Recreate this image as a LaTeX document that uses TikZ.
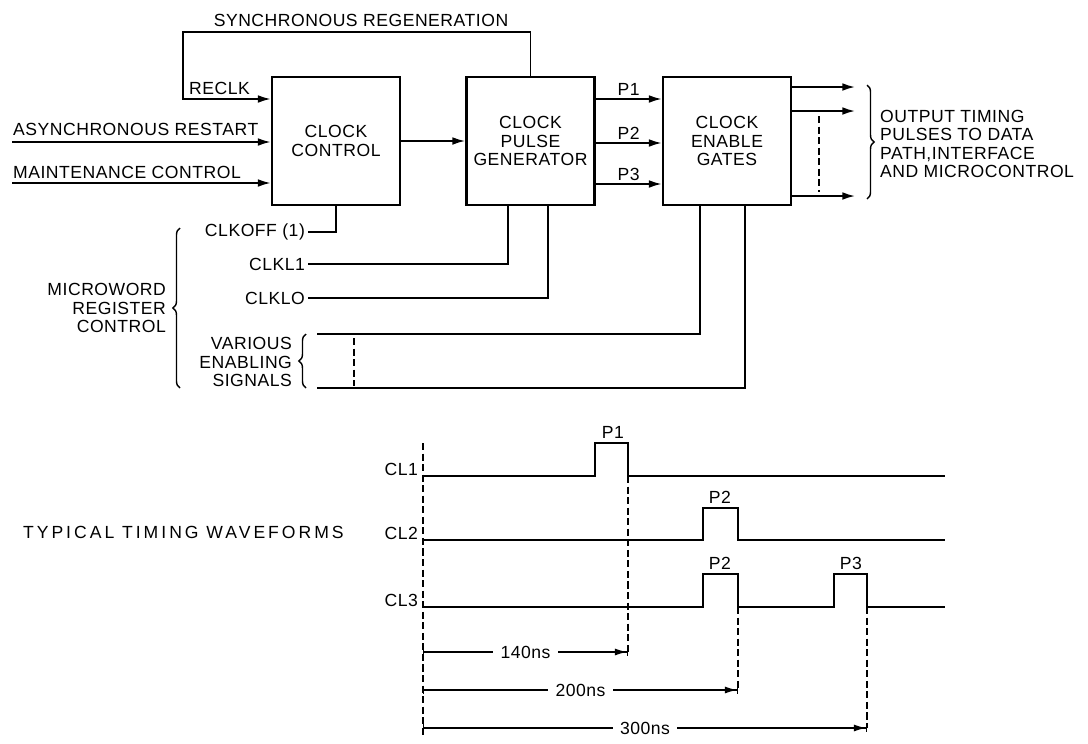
\documentclass[tikz,border=0pt]{standalone}
\usepackage{fontspec}
\setmainfont{Liberation Sans}[LetterSpace=3]
\newfontfamily\widefont{Liberation Sans}[LetterSpace=17]
\usetikzlibrary{arrows.meta,positioning,decorations.pathreplacing}
\newcommand{\lbl}{\fontsize{12.5}{13.2}\selectfont}

\begin{document}
\begin{tikzpicture}[x=0.025cm, y=-0.025cm,
  blk/.style={draw, line width=2pt, minimum width=3.2cm, minimum height=3.2cm,
              align=center, font=\lbl, inner sep=0pt},
  txt/.style={font=\lbl, inner sep=2pt},
  wire/.style={line width=1.2pt},
  feed/.style={wire, -{Latex[length=9pt,width=5.5pt]}},
  wave/.style={line width=1.8pt},
  guide/.style={line width=0.8pt, dash pattern=on 5pt off 2.5pt},
  dimline/.style={line width=0.8pt,
                  {Bar[width=6pt]}-{Latex[length=8.5pt,width=5pt]Bar[width=6pt]}},
  brc/.style={decorate, decoration={brace, amplitude=5pt}, line width=1pt}
]
\useasboundingbox (0,0) rectangle (1088,744);

\node[blk] (clkctl) at (336,141) {CLOCK\\CONTROL};
\node[blk] (clkpg) at (530.5,141) {CLOCK\\PULSE\\GENERATOR};
\node[blk] (gates) at (727,141) {CLOCK\\ENABLE\\GATES};

\node[txt] (regenlab) at (361,20) {SYNCHRONOUS REGENERATION};
\coordinate (regen) at (183,32);
\coordinate (reclk) at (183,99);
\node[txt, anchor=west] (reclklab) at (186,88) {RECLK};
\draw[feed] (clkpg.north) |- (regen) -- (reclk) -- (reclk -| clkctl.west);

\coordinate (asyncin) at (12,142);
\coordinate (maintin) at (12,183);
\node[txt, anchor=west] (asynclab) at (10,129) {ASYNCHRONOUS RESTART};
\node[txt, anchor=west] (maintlab) at (10,172) {MAINTENANCE CONTROL};
\draw[feed] (asyncin) -- (asyncin -| clkctl.west);
\draw[feed] (maintin) -- (maintin -| clkctl.west);
\draw[feed] (clkctl) -- (clkpg);

\foreach \p/\y in {1/99,2/143,3/184}
  \draw[feed] (clkpg.east |- 0,\y) -- (gates.west |- 0,\y)
    node[midway, above, txt] {P\p};

\coordinate (outa) at (855,87);
\coordinate (outb) at (855,111);
\coordinate (outc) at (855,196);
\foreach \o in {outa,outb,outc}
  \draw[feed] (gates.east |- \o) -- (\o);
\draw[guide] (819,116) -- (819,192);
\draw[brc] (867,85) -- (867,199);
\node[txt, anchor=west, align=left] (outlab) at (877,144)
  {OUTPUT TIMING\\PULSES TO DATA\\PATH,INTERFACE\\AND MICROCONTROL};

\node[txt, anchor=east] (clkoff) at (308,232) {CLKOFF (1)};
\node[txt, anchor=east] (clkla) at (308,264) {CLKL1};
\node[txt, anchor=east] (clklo) at (308,298) {CLKLO};
\draw[wire] (clkoff.east) -| (clkctl.south);
\draw[wire] (clkla.east) -| ([xshift=-0.56cm]clkpg.south);
\draw[wire] (clklo.east) -| ([xshift=0.44cm]clkpg.south);

\node[txt, anchor=east, align=right] (various) at (295,362)
  {VARIOUS\\ENABLING\\SIGNALS};
\draw[brc] (306,388) -- (306,334);
\coordinate (ena) at (317,334);
\coordinate (enb) at (317,388);
\draw[wire] (ena) -| ([xshift=-0.68cm]gates.south);
\draw[wire] (enb) -| ([xshift=0.45cm]gates.south);
\draw[guide] (354,338) -- (354,386);

\node[txt, anchor=east, align=right] (microword) at (169,308)
  {MICROWORD\\REGISTER\\CONTROL};
\draw[brc] (180,388) -- (180,228);

\node[txt, anchor=west, font=\lbl\widefont] (typical) at (20,532)
  {TYPICAL TIMING WAVEFORMS};

\foreach \n/\y in {1/476,2/540,3/607}
  \node[txt, anchor=east] (cl\n) at (421,\y-7) {CL\n};
\draw[wave] (423,476) -- (595,476) -- (595,443) -- (628,443) -- (628,476) -- (945,476);
\draw[wave] (423,540) -- (703,540) -- (703,508) -- (738,508) -- (738,540) -- (945,540);
\draw[wave] (423,607) -- (703,607) -- (703,574) -- (738,574) -- (738,607)
  -- (834,607) -- (834,574) -- (867,574) -- (867,607) -- (945,607);
\node[txt] (pa) at (613,432) {P1};
\node[txt] (pb) at (720,497) {P2};
\node[txt] (pc) at (720,563) {P2};
\node[txt] (pd) at (851,563) {P3};

\draw[guide] (423,443) -- (423,736);
\draw[guide] (628,476) -- (628,652);
\draw[guide] (738,607) -- (738,690);
\draw[guide] (867,607) -- (867,728);
\draw[dimline] (423,652) -- (628,652) node[midway, fill=white, txt, inner xsep=5pt] {140ns};
\draw[dimline] (423,690) -- (738,690) node[midway, fill=white, txt, inner xsep=5pt] {200ns};
\draw[dimline] (423,728) -- (867,728) node[midway, fill=white, txt, inner xsep=5pt] {300ns};
\end{tikzpicture}
\end{document}
